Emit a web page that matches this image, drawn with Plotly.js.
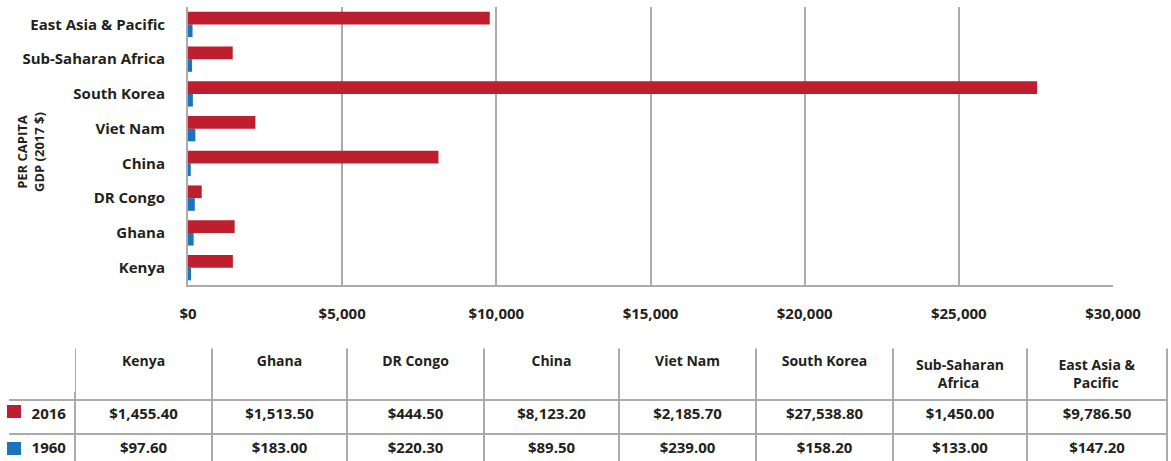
<!DOCTYPE html>
<html><head><meta charset="utf-8">
<script src="https://cdn.plot.ly/plotly-3.0.1.min.js"></script>
<style>html,body{margin:0;padding:0;background:#fff}</style>
</head><body><div id="chart" style="width:1171px;height:461px"></div>
<script>
const categories = ['Kenya','Ghana','DR Congo','China','Viet Nam','South Korea','Sub-Saharan Africa','East Asia & Pacific'];
const headerLabels = ['Kenya','Ghana','DR Congo','China','Viet Nam','South Korea','Sub-Saharan<br>Africa','East Asia &<br>Pacific'];
const values2016 = [1455.4,1513.5,444.5,8123.2,2185.7,27538.8,1450.0,9786.5];
const values1960 = [97.6,183.0,220.3,89.5,239.0,158.2,133.0,147.2];
const seriesNames = ['2016','1960'];
const xTicks = [0,5000,10000,15000,20000,25000,30000];
const xTickLabels = ['$0','$5,000','$10,000','$15,000','$20,000','$25,000','$30,000'];

const RED = '#be1e2d', BLUE = '#1c75bc', GRID = '#ababab', TXT = '#231f20';
const FONT = 'Open Sans, Noto Sans, sans-serif';
const W = 1171, H = 461;
const HEADER_SIZE = 14;

function money(v){ return '$' + v.toLocaleString('en-US',{minimumFractionDigits:2, maximumFractionDigits:2}); }

// Plotly tables left-align lines inside a centred block; pad short lines so each one is centred.
const ctx = document.createElement('canvas').getContext('2d');
ctx.font = 'bold ' + HEADER_SIZE + 'px "Open Sans"';
const nb = '\u00a0', nbW = ctx.measureText(nb).width || 3.6;
function centreLines(label){
  const lines = label.split('<br>');
  if (lines.length < 2) return label;
  const widths = lines.map(l => ctx.measureText(l).width);
  const maxW = Math.max(...widths);
  return lines.map((l,i) => nb.repeat(Math.round((maxW - widths[i]) / 2 / nbW)) + l).join('<br>');
}

const bar1960 = {type:'bar', orientation:'h', name:seriesNames[1], y:categories, x:values1960,
  marker:{color:BLUE}, hoverinfo:'x+y', showlegend:false};
const bar2016 = {type:'bar', orientation:'h', name:seriesNames[0], y:categories, x:values2016,
  marker:{color:RED}, hoverinfo:'x+y', showlegend:false};

const pad = nb.repeat(4);
const cellCols = [[pad + seriesNames[0], pad + seriesNames[1]]];
for (let i=0;i<categories.length;i++) cellCols.push([money(values2016[i]), money(values1960[i])]);

const table = {
  type:'table',
  domain:{x:[8/W, 1167/W], y:[0, 1-347/H]},
  columnwidth:[67,137,135,137,135,137,137,134,140],
  header:{values:[''].concat(headerLabels.map(centreLines)), height:45, align:'center',
    line:{color:GRID, width:2}, fill:{color:'#fff'},
    font:{family:FONT, size:HEADER_SIZE, color:TXT, weight:700}},
  cells:{values:cellCols, height:34, align:['left','center'],
    line:{color:GRID, width:2}, fill:{color:'#fff'},
    font:{family:FONT, size:15, color:TXT, weight:700}}
};

const mask = (x0,y0,x1,y1) => ({type:'rect', xref:'paper', yref:'paper', layer:'above',
  x0:x0/W, x1:x1/W, y0:1-y1/H, y1:1-y0/H, fillcolor:'#fff', line:{width:0}});
const swatch = (color, top) => ({type:'rect', xref:'paper', yref:'paper', layer:'above',
  x0:7/W, x1:21/W, y0:1-(top+13)/H, y1:1-top/H, fillcolor:color, line:{width:0}});

const layout = {
  width:W, height:H, margin:{l:0,r:0,t:0,b:0},
  paper_bgcolor:'#fff', plot_bgcolor:'#fff',
  barmode:'group', bargap:0.27, bargroupgap:0,
  font:{family:FONT, color:TXT},
  xaxis:{domain:[188/W, 1113/W], range:[0,30000], tickvals:xTicks, ticktext:xTickLabels,
    showgrid:true, gridcolor:GRID, gridwidth:2, showline:true, linecolor:GRID, linewidth:2,
    zeroline:false, ticks:'', ticklabelstandoff:14, fixedrange:true,
    tickfont:{family:FONT, size:15, color:TXT, weight:700}},
  yaxis:{domain:[1-285/H, 1-7/H], type:'category', categoryorder:'array', categoryarray:categories,
    showline:true, linecolor:GRID, linewidth:2, showgrid:false, zeroline:false, ticks:'',
    ticklabelstandoff:18, fixedrange:true,
    tickfont:{family:FONT, size:15, color:TXT, weight:700}},
  shapes:[mask(0,344,1171,348.5), mask(0,344,9.2,461), mask(0,344,75,392),
          swatch(RED, 405), swatch(BLUE, 442)],
  annotations:[{xref:'paper', yref:'paper', x:30/W, y:1-152/H, xanchor:'center', yanchor:'middle',
    text:'PER CAPITA<br>GDP (2017 $)', textangle:-90, showarrow:false,
    font:{family:FONT, size:13, color:TXT, weight:700}}]
};

Plotly.newPlot('chart', [bar1960, bar2016, table], layout, {displayModeBar:false, staticPlot:true});
</script></body></html>
